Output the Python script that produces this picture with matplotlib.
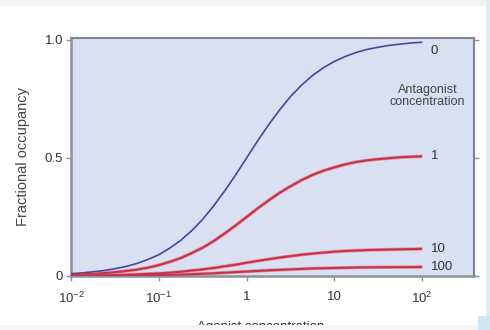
import numpy as np
import matplotlib
matplotlib.use("Agg")
import matplotlib.pyplot as plt
from matplotlib.patches import Rectangle

# Agonist concentration, log10 positions (1/8-decade steps)
log_agonist = [-2.0, -1.875, -1.75, -1.625, -1.5, -1.375, -1.25, -1.125, -1.0,
               -0.875, -0.75, -0.625, -0.5, -0.375, -0.25, -0.125, 0.0,
               0.125, 0.25, 0.375, 0.5, 0.625, 0.75, 0.875, 1.0,
               1.125, 1.25, 1.375, 1.5, 1.625, 1.75, 1.875, 2.0]

# Fractional occupancy for each antagonist concentration
occ_0 = [0.010, 0.013, 0.018, 0.023, 0.031, 0.040, 0.053, 0.070, 0.090,
         0.118, 0.151, 0.192, 0.240, 0.297, 0.360, 0.428, 0.500,
         0.572, 0.640, 0.703, 0.760, 0.808, 0.849, 0.882, 0.909,
         0.930, 0.947, 0.960, 0.969, 0.977, 0.982, 0.987, 0.990]
occ_1 = [0.005, 0.007, 0.009, 0.012, 0.016, 0.021, 0.027, 0.035, 0.046,
         0.060, 0.076, 0.097, 0.120, 0.148, 0.180, 0.214, 0.250,
         0.286, 0.320, 0.352, 0.380, 0.406, 0.428, 0.446, 0.460,
         0.473, 0.483, 0.490, 0.495, 0.499, 0.503, 0.505, 0.507]
occ_10 = [0.001, 0.0015, 0.002, 0.003, 0.004, 0.005, 0.007, 0.009, 0.011,
          0.014, 0.018, 0.023, 0.028, 0.034, 0.041, 0.048, 0.056,
          0.064, 0.071, 0.078, 0.084, 0.090, 0.095, 0.099, 0.103,
          0.106, 0.108, 0.110, 0.111, 0.112, 0.113, 0.114, 0.115]
occ_100 = [0.0004, 0.0005, 0.0007, 0.001, 0.0013, 0.0017, 0.0023, 0.003, 0.004,
           0.005, 0.006, 0.0077, 0.0095, 0.0115, 0.014, 0.0165, 0.019,
           0.0215, 0.024, 0.026, 0.028, 0.030, 0.032, 0.033, 0.034,
           0.035, 0.036, 0.0365, 0.037, 0.0372, 0.0375, 0.0378, 0.038]

series_labels = ["0", "1", "10", "100"]
x_ticks = [0.01, 0.1, 1, 10, 100]
x_tick_labels = ["10$^{-2}$", "10$^{-1}$", "1", "10", "10$^{2}$"]
y_ticks = [0, 0.5, 1.0]
y_tick_labels = ["0", "0.5", "1.0"]

plt.rcParams['font.family'] = ['Liberation Sans', 'DejaVu Sans']
plt.rcParams['mathtext.fontset'] = 'custom'
plt.rcParams['mathtext.rm'] = 'Liberation Sans'

fig = plt.figure(figsize=(4.9, 3.3), dpi=100)
fig.patch.set_facecolor("white")
ax = fig.add_axes([71/490, 1 - 276/330, 403/490, 238/330])
ax.set_facecolor("#d9e0f2")

x = 10 ** np.array(log_agonist)
blue = "#4e4499"
red = "#c4344c"
series = [occ_0, occ_1, occ_10, occ_100]
colors = [blue, red, red, red]
widths = [1.2, 1.5, 1.5, 1.5]
label_dy = [-6, 0, 0, 0]
for ys, c, lw, lab, dy in zip(series, colors, widths, series_labels, label_dy):
    if c == red:
        ax.plot(x, ys, color="#e8909c", lw=lw + 1.0, solid_capstyle="butt", zorder=2)
    ax.plot(x, ys, color=c, lw=lw, solid_capstyle="butt", zorder=3)
    ax.annotate(lab, xy=(x[-1], ys[-1]), xytext=(6, dy), textcoords="offset points",
                ha="left", va="center", fontsize=9.5, color="#333333")

ax.text(10 ** 2.06, 0.762, "Antagonist\nconcentration", ha="center", va="center",
        fontsize=9, color="#444444", linespacing=1.05)

ax.set_xscale("log")
ax.set_xlim(10 ** -2.0, 10 ** 2.59)
ax.set_ylim(0, 1.008)
ax.set_xticks(x_ticks)
ax.set_xticklabels(x_tick_labels)
ax.minorticks_off()
ax.set_yticks(y_ticks)
ax.set_yticklabels(y_tick_labels)
ax.tick_params(axis="both", direction="out", length=3.5, width=1, color="#8a8f99",
               labelsize=9.5, labelcolor="#333333", pad=2)
ax.tick_params(axis="x", pad=7)
ax.tick_params(axis="y", right=True)

for side in ["left", "bottom"]:
    ax.spines[side].set_color("#8c919c")
    ax.spines[side].set_linewidth(1.8)
for side in ["top", "right"]:
    ax.spines[side].set_color("#7f8594")
    ax.spines[side].set_linewidth(1.5)

ax.set_ylabel("Fractional occupancy", fontsize=10.5, color="#444444", labelpad=11)
fig.text(261/490, 1 - 327/330, "Agonist concentration", ha="center", va="center",
         fontsize=9.5, color="#333333", zorder=1)

# light frame strips of the original screenshot
fig.patches.append(Rectangle((0, 1 - 6/330), 1, 6/330, transform=fig.transFigure,
                             facecolor="#f2f2f2", edgecolor="none", zorder=5))
fig.patches.append(Rectangle((0, 0), 1, 5/330, transform=fig.transFigure,
                             facecolor="#f4f5f6", edgecolor="none", zorder=5))
fig.patches.append(Rectangle((486/490, 0), 4/490, 1, transform=fig.transFigure,
                             facecolor="#dcecf7", edgecolor="none", zorder=5))
fig.patches.append(Rectangle((478/490, 0), 12/490, 14/330, transform=fig.transFigure,
                             facecolor="#cfe6f5", edgecolor="none", zorder=6))

fig.savefig("out.png", dpi=100, facecolor=fig.get_facecolor())
